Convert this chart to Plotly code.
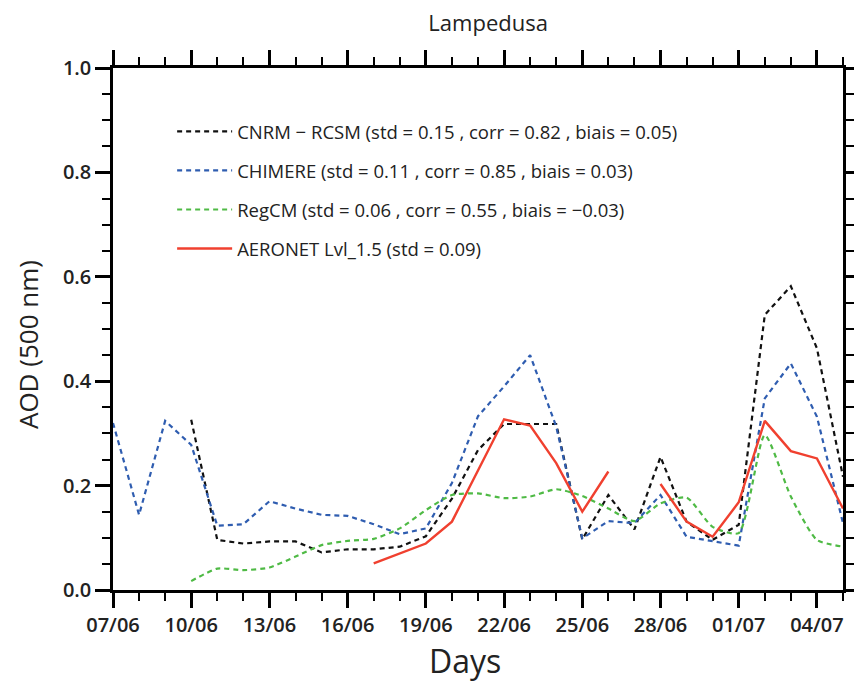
import plotly.graph_objects as go
import pandas as pd

dates = pd.date_range("2012-06-07", "2012-07-05", freq="D")

cnrm = [None, None, None, 0.326, 0.096, 0.089, 0.093, 0.093, 0.072, 0.078,
        0.078, 0.083, 0.103, 0.175, 0.268, 0.318, 0.318, 0.318, 0.097, 0.182,
        0.116, 0.255, 0.131, 0.096, 0.125, 0.527, 0.582, 0.463, 0.217]
chimere = [0.32, 0.144, 0.324, 0.278, 0.123, 0.126, 0.170, 0.156, 0.144, 0.142,
           0.126, 0.107, 0.118, 0.205, 0.333, 0.390, 0.450, 0.313, 0.099, 0.132,
           0.128, 0.182, 0.102, 0.094, 0.085, 0.367, 0.434, 0.332, 0.128]
regcm = [None, None, None, 0.017, 0.041, 0.038, 0.043, 0.064, 0.086, 0.094,
         0.098, 0.118, 0.153, 0.182, 0.185, 0.176, 0.179, 0.193, 0.180, 0.156,
         0.132, 0.166, 0.177, 0.121, 0.109, 0.297, 0.179, 0.096, 0.083]
aeronet = [None, None, None, None, None, None, None, None, None, None,
           0.051, 0.070, 0.089, 0.131, 0.229, 0.327, 0.315, 0.243, 0.150, 0.227,
           None, 0.203, 0.131, 0.102, 0.168, 0.324, 0.266, 0.252, 0.156]

names = [
    "CNRM − RCSM (std = 0.15 , corr = 0.82 , biais = 0.05)",
    "CHIMERE (std = 0.11 , corr = 0.85 , biais = 0.03)",
    "RegCM (std = 0.06 , corr = 0.55 , biais = −0.03)",
    "AERONET Lvl_1.5 (std = 0.09)",
]

FONT = "Open Sans"
TXT = "#222222"
fig = go.Figure()
fig.add_trace(go.Scatter(x=dates, y=cnrm, mode="lines", name=names[0], legendgroup="a",
                         line=dict(color="#111111", width=2.2, dash="5px,4px")))
fig.add_trace(go.Scatter(x=dates, y=chimere, mode="lines", name=names[1], legendgroup="b",
                         line=dict(color="#2f5db0", width=2.2, dash="5px,4px")))
fig.add_trace(go.Scatter(x=dates, y=regcm, mode="lines", name=names[2], legendgroup="c",
                         line=dict(color="#4fba45", width=2.2, dash="5px,4px", shape="spline", smoothing=0.6)))
fig.add_trace(go.Scatter(x=dates, y=aeronet, mode="lines", name=names[3], legendgroup="d",
                         line=dict(color="#f0402f", width=2.4)))

axis_common = dict(
    showline=True, linecolor="black", linewidth=2.5, mirror="allticks",
    ticks="outside", ticklen=15, tickwidth=2.5, tickcolor="black",
    showgrid=False, zeroline=False, automargin=False,
    tickfont=dict(family=FONT, size=20, color=TXT, weight=600),
)

fig.update_xaxes(
    **axis_common,
    type="date",
    range=[dates[0], dates[-1]],
    tick0=dates[0], dtick=3 * 86400000, tickformat="%d/%m",
    minor=dict(ticks="outside", ticklen=8, tickwidth=1.5, tickcolor="black", dtick=86400000, tick0=dates[0]),
)
fig.update_yaxes(
    **axis_common,
    range=[0, 1.0], dtick=0.2, tickformat=".1f",
    minor=dict(ticks="outside", ticklen=8, tickwidth=1.5, tickcolor="black", dtick=0.05),
)

fig.add_annotation(text="Days", xref="paper", yref="paper", x=0.482, y=-0.136,
                   xanchor="center", yanchor="middle", showarrow=False,
                   font=dict(family=FONT, size=32, color=TXT))
fig.add_annotation(text="AOD (500 nm)", xref="paper", yref="paper", x=-0.1164, y=0.4693,
                   xanchor="center", yanchor="middle", textangle=-90, showarrow=False,
                   font=dict(family=FONT, size=26, color=TXT))

fig.update_layout(
    width=862, height=684,
    margin=dict(l=105, r=27, t=60, b=102),
    paper_bgcolor="white", plot_bgcolor="white",
    title=dict(text="Lampedusa", x=0.557, xanchor="center", y=0.977, yanchor="middle",
               font=dict(family=FONT, size=22, color=TXT)),
    legend=dict(x=0.081, y=0.914, xanchor="left", yanchor="top",
                bgcolor="rgba(0,0,0,0)", tracegroupgap=12, itemwidth=55,
                font=dict(family=FONT, size=18.5, color=TXT)),
    font=dict(family=FONT),
)

fig.write_html("out.html")
